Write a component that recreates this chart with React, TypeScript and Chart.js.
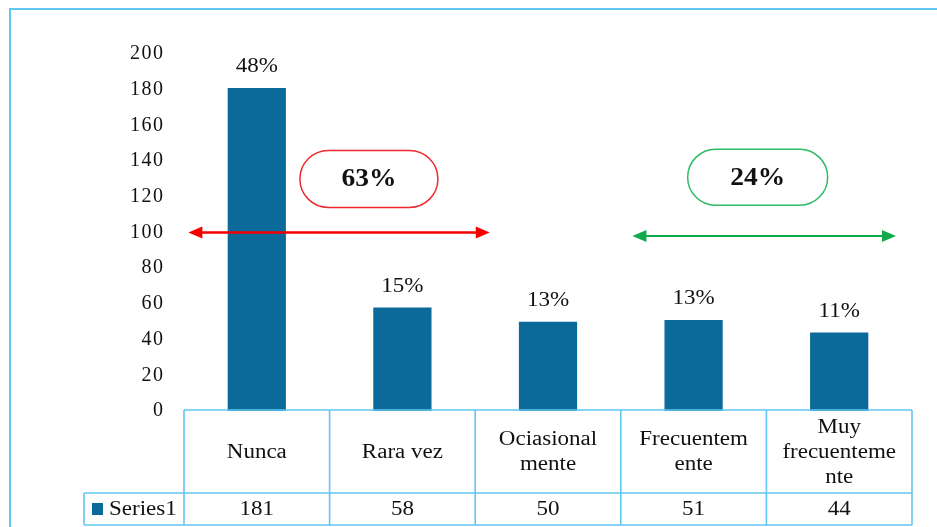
import React, { useEffect, useRef } from "react";
import { Chart, registerables } from "chart.js";

Chart.register(...registerables);

const categories: string[][] = [
  ["Nunca"],
  ["Rara vez"],
  ["Ociasional", "mente"],
  ["Frecuentem", "ente"],
  ["Muy", "frecuenteme", "nte"],
];
const values: number[] = [181, 58, 50, 51, 44];
const percentLabels: string[] = ["48%", "15%", "13%", "13%", "11%"];
const seriesName = "Series1";
const yTicks = { min: 0, max: 200, step: 20 };
const groupLabels: string[] = ["63%", "24%"];

const FONT = "'Liberation Serif', 'Times New Roman', serif";
const BAR = "#0C6A9B";
const LINE = "#62C6F2";
const SX = 1.15;

const stretchText = (
  ctx: CanvasRenderingContext2D,
  s: string,
  x: number,
  y: number,
  align: CanvasTextAlign = "center",
  sx: number = SX
) => {
  ctx.save();
  ctx.translate(x, y);
  ctx.scale(sx, 1);
  ctx.textAlign = align;
  ctx.textBaseline = "middle";
  ctx.fillText(s, 0, 0);
  ctx.restore();
};

const drawArrow = (ctx: CanvasRenderingContext2D, x1: number, x2: number, y: number, color: string, lw: number) => {
  const hl = 14, hw = 6;
  ctx.save();
  ctx.strokeStyle = color;
  ctx.fillStyle = color;
  ctx.lineWidth = lw;
  ctx.beginPath();
  ctx.moveTo(x1 + hl - 2, y);
  ctx.lineTo(x2 - hl + 2, y);
  ctx.stroke();
  ctx.beginPath();
  ctx.moveTo(x1, y);
  ctx.lineTo(x1 + hl, y - hw);
  ctx.lineTo(x1 + hl, y + hw);
  ctx.closePath();
  ctx.fill();
  ctx.beginPath();
  ctx.moveTo(x2, y);
  ctx.lineTo(x2 - hl, y - hw);
  ctx.lineTo(x2 - hl, y + hw);
  ctx.closePath();
  ctx.fill();
  ctx.restore();
};

const drawPill = (ctx: CanvasRenderingContext2D, cx: number, cy: number, w: number, h: number, color: string, text: string) => {
  const r = h / 2;
  const x = cx - w / 2, y = cy - h / 2;
  ctx.save();
  ctx.beginPath();
  ctx.moveTo(x + r, y);
  ctx.lineTo(x + w - r, y);
  ctx.arc(x + w - r, y + r, r, -Math.PI / 2, Math.PI / 2);
  ctx.lineTo(x + r, y + h);
  ctx.arc(x + r, y + r, r, Math.PI / 2, (3 * Math.PI) / 2);
  ctx.closePath();
  ctx.fillStyle = "#fff";
  ctx.fill();
  ctx.strokeStyle = color;
  ctx.lineWidth = 1.5;
  ctx.stroke();
  ctx.fillStyle = "#111";
  ctx.font = `bold 25px ${FONT}`;
  stretchText(ctx, text, cx, cy + 1, "center", 1.1);
  ctx.restore();
};

const overlayPlugin = {
  id: "overlay",
  beforeDraw(chart: any) {
    (chart.ctx as any).letterSpacing = "1.5px";
  },
  beforeDatasetsDraw(chart: any) {
    (chart.ctx as any).letterSpacing = "0px";
  },
  afterDraw(chart: any) {
    const ctx: CanvasRenderingContext2D = chart.ctx;
    (ctx as any).letterSpacing = "0px";
    const xs = chart.scales.x;
    const ys = chart.scales.y;
    const meta = chart.getDatasetMeta(0);
    const n = categories.length;
    const cw = (chart.chartArea.right - chart.chartArea.left) / n;
    const left = chart.chartArea.left;
    const right = chart.chartArea.right;
    const top = chart.chartArea.bottom - 1;
    const mid = top + 83;
    const bot = mid + 32;

    // outer frame
    ctx.save();
    ctx.strokeStyle = LINE;
    ctx.lineWidth = 2;
    ctx.beginPath();
    ctx.moveTo(10, 600);
    ctx.lineTo(10, 9);
    ctx.lineTo(1000, 9);
    ctx.stroke();
    ctx.restore();

    // percent labels
    ctx.save();
    ctx.fillStyle = "#111";
    ctx.font = `20px ${FONT}`;
    meta.data.forEach((bar: any, i: number) => {
      stretchText(ctx, percentLabels[i], bar.x, bar.y - 21);
    });
    ctx.restore();

    // data table
    ctx.save();
    ctx.strokeStyle = LINE;
    ctx.lineWidth = 1.6;
    ctx.beginPath();
    ctx.moveTo(left, top);
    ctx.lineTo(right, top);
    ctx.moveTo(84, mid);
    ctx.lineTo(right, mid);
    ctx.moveTo(84, bot);
    ctx.lineTo(right, bot);
    ctx.moveTo(84, mid);
    ctx.lineTo(84, bot);
    for (let i = 0; i <= n; i++) {
      const x = left + i * cw;
      ctx.moveTo(x, top);
      ctx.lineTo(x, bot);
    }
    ctx.stroke();

    ctx.fillStyle = "#111";
    ctx.font = `20px ${FONT}`;
    const lh = 25;
    categories.forEach((lines, i) => {
      const cx = xs.getPixelForValue(i);
      const cy = (top + mid) / 2 + 1;
      const start = cy - ((lines.length - 1) * lh) / 2;
      lines.forEach((t, j) => stretchText(ctx, t, cx, start + j * lh));
      stretchText(ctx, String(values[i]), cx, (mid + bot) / 2 + 1);
    });
    ctx.fillStyle = BAR;
    ctx.fillRect(92, (mid + bot) / 2 - 6, 11, 12);
    ctx.fillStyle = "#111";
    stretchText(ctx, seriesName, 109, (mid + bot) / 2 + 1, "left");
    ctx.restore();

    // annotations
    const y100 = ys.getPixelForValue(100);
    const y98 = ys.getPixelForValue(98);
    const catX = (v: number) => xs.getPixelForValue(0) + v * cw;
    drawArrow(ctx, catX(-0.47), catX(1.6), y100, "#F50000", 2.5);
    drawArrow(ctx, catX(2.58), catX(4.39), y98, "#11AA4B", 2);
    drawPill(ctx, catX(0.77), ys.getPixelForValue(130), 138, 57, "#F0282D", groupLabels[0]);
    drawPill(ctx, catX(3.44), ys.getPixelForValue(131), 140, 56, "#2DBB63", groupLabels[1]);
  },
};

export default function App() {
  const ref = useRef<HTMLCanvasElement | null>(null);
  useEffect(() => {
    if (!ref.current) return;
    const chart = new Chart(ref.current, {
      type: "bar",
      data: {
        labels: categories.map((c) => c.join(" ")),
        datasets: [
          {
            label: seriesName,
            data: values,
            backgroundColor: BAR,
            barPercentage: 0.4,
            categoryPercentage: 1,
          },
        ],
      },
      options: {
        responsive: false,
        animation: false,
        devicePixelRatio: 1,
        layout: { padding: { left: 0, top: 54, right: 25, bottom: 116 } },
        plugins: { legend: { display: false }, tooltip: { enabled: false } },
        scales: {
          x: { display: false },
          y: {
            min: yTicks.min,
            max: yTicks.max,
            ticks: { stepSize: yTicks.step, color: "#111", font: { family: FONT, size: 20 }, padding: 19.5 },
            grid: { display: false, drawTicks: false },
            border: { display: false },
            afterFit: (s: any) => {
              s.width = 184;
            },
          },
        },
      },
      plugins: [overlayPlugin],
    });
    return () => chart.destroy();
  }, []);
  return (
    <div style={{ position: "absolute", left: 0, top: 0, width: 937, height: 527, background: "#fff" }}>
      <canvas ref={ref} width={937} height={527} style={{ display: "block" }} />
    </div>
  );
}
